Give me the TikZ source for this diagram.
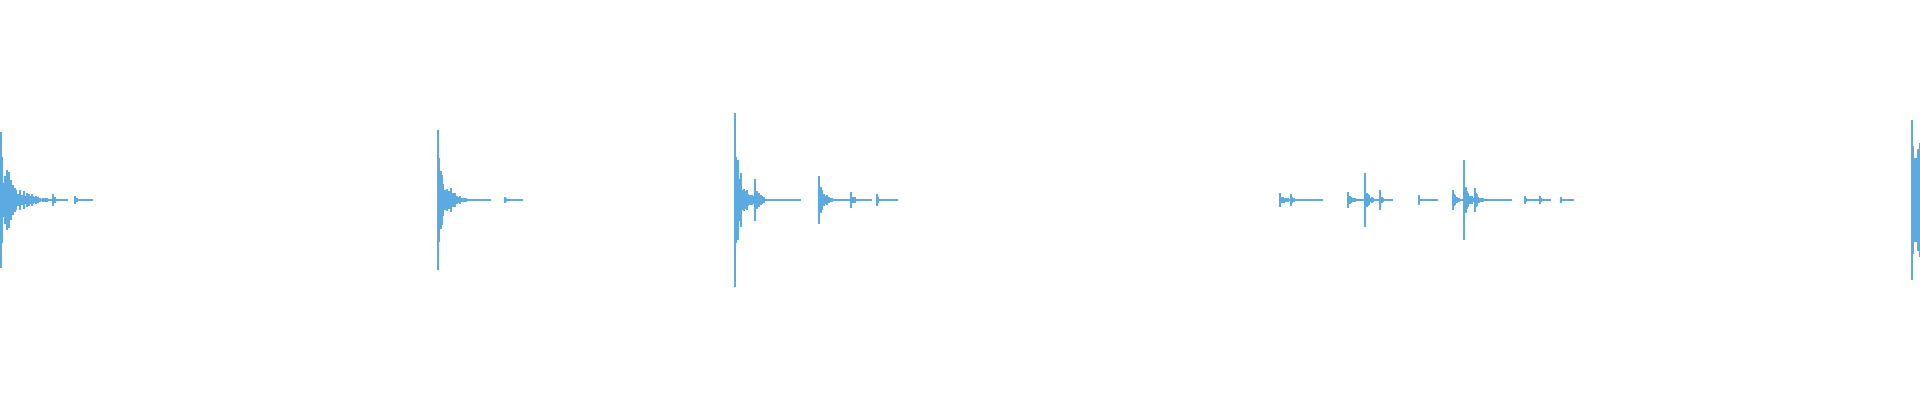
\documentclass[tikz,border=0pt]{standalone}
\usepackage{tikz}

\definecolor{wave}{RGB}{93,170,224}

% one decaying burst: start, peak, length, decay
\newcommand{\wburst}[4]{%
  \draw[wavefill] (#1,199.5) -- ++(#3,0);
  \draw[wavefill] (#1,200-#2) -- (#1,200+#2);
  \foreach \i in {1,...,#3}{
    \pgfmathsetmacro{\amp}{max(0.6,#2*0.75*exp(-\i/#4)*(0.3+0.7*rnd))}
    \draw[wavefill] (#1+\i,200-\amp) -- (#1+\i,200+\amp);
  }%
}

\begin{document}
\begin{tikzpicture}[x=0.01cm, y=-0.01cm,
    wavefill/.style={draw=wave, line width=0.012cm}]
    \useasboundingbox (0,0) rectangle (1920,400);
    \pgfmathsetseed{7}

    % first event
    \wburst{1}{68}{60}{14}
    \wburst{20}{10}{10}{6}
    \wburst{53}{6}{14}{6}
    \wburst{75}{4}{17}{5}

    % second event
    \wburst{438}{70}{52}{9}
    \wburst{505}{3}{17}{5}

    % third event
    \wburst{735}{87}{65}{7}
    \wburst{755}{21}{18}{6}
    \wburst{819}{24}{30}{6}
    \wburst{851}{8}{20}{5}
    \wburst{877}{6}{20}{5}

    % group of small events
    \wburst{1280}{7}{42}{8}
    \wburst{1291}{6}{10}{4}
    \wburst{1348}{8}{32}{6}
    \wburst{1365}{27}{12}{4}
    \wburst{1380}{10}{12}{4}
    \wburst{1419}{5}{18}{5}
    \wburst{1453}{10}{58}{7}
    \wburst{1464}{40}{14}{4}
    \wburst{1475}{12}{30}{6}
    \wburst{1525}{4}{16}{4}
    \wburst{1540}{4}{10}{4}
    \wburst{1561}{3}{12}{4}

    % last event
    \wburst{1912}{80}{8}{200}
\end{tikzpicture}
\end{document}
